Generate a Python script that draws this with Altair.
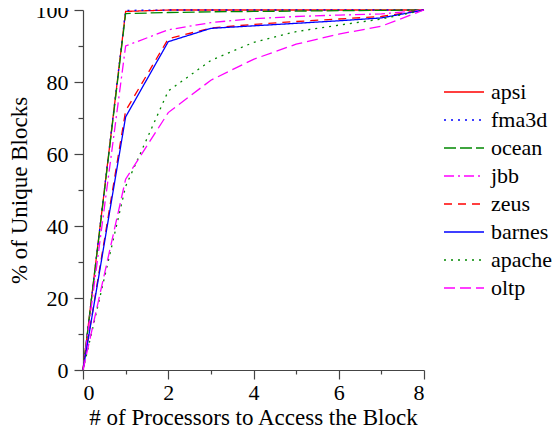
import altair as alt
import pandas as pd

procs = [0, 1, 2, 3, 4, 5, 6, 7, 8]
apsi = [0, 99.6, 100, 100, 100, 100, 100, 100, 100]
fma3d = [0, 99.9, 100, 100, 100, 100, 100, 100, 100]
ocean = [0, 99.0, 99.3, 99.5, 99.6, 99.7, 99.8, 99.9, 100]
jbb = [0, 90.0, 94.5, 96.5, 97.6, 98.2, 98.6, 98.9, 100]
zeus = [0, 72.0, 92.0, 95.0, 96.0, 96.8, 97.5, 98.2, 100]
barnes = [0, 70.3, 91.2, 94.9, 95.6, 96.3, 97.0, 97.8, 100]
apache = [0, 51.0, 77.5, 86.0, 91.0, 94.0, 95.8, 97.5, 100]
oltp = [0, 53.0, 71.5, 80.5, 86.3, 90.5, 93.3, 95.5, 100]

series_names = ["apsi", "fma3d", "ocean", "jbb", "zeus", "barnes", "apache", "oltp"]
series_values = [apsi, fma3d, ocean, jbb, zeus, barnes, apache, oltp]
series_colors = ["#ff0000", "#0000ff", "#008800", "#ff00ff",
                 "#ff0000", "#0000ff", "#008800", "#ff00ff"]
series_dash = [[1, 0], [2, 5], [12, 4], [10, 4, 2, 4], [8, 6], [1, 0], [2, 5], [11, 5]]

rows = []
for name, vals in zip(series_names, series_values):
    for p, v in zip(procs, vals):
        rows.append({"procs": p, "pct": v, "series": name})
df = pd.DataFrame(rows)

FONT = "Liberation Serif"
xscale = alt.Scale(domain=[0, 8], nice=False)
yscale = alt.Scale(domain=[0, 100], nice=False)

axis_style = dict(labelFont=FONT, labelFontSize=22, labelColor="black",
                  titleFont=FONT, titleFontSize=23, titleFontWeight="normal", titleColor="black",
                  domainColor="#444444", tickColor="#444444", domainWidth=1.2, tickWidth=1.2,
                  grid=False)

legend_style = dict(title=None, orient="none", legendX=360, legendY=68,
                    symbolType="stroke", symbolSize=1600, symbolStrokeWidth=1.3,
                    clipHeight=28, rowPadding=0, padding=0, labelOffset=6,
                    labelFont=FONT, labelFontSize=22, labelColor="black",
                    labelLimit=200)

base = alt.Chart(df)

lines = base.mark_line(strokeWidth=1.3).encode(
    x=alt.X("procs:Q", scale=xscale,
            axis=alt.Axis(values=[0, 2, 4, 6, 8], tickSize=9, labelPadding=3,
                          orient="bottom",
                          title="# of Processors to Access the Block",
                          titleX=170, titleY=47, titleAlign="center",
                          titleBaseline="middle", **axis_style)),
    y=alt.Y("pct:Q", scale=yscale,
            axis=alt.Axis(values=[0, 20, 40, 60, 80, 100], tickSize=9, labelPadding=6,
                          orient="left",
                          title="% of Unique Blocks",
                          titleX=-64, titleY=180, titleAngle=270, titleAlign="center",
                          titleBaseline="middle", **axis_style)),
    color=alt.Color("series:N", scale=alt.Scale(domain=series_names, range=series_colors),
                    legend=alt.Legend(**legend_style)),
    strokeDash=alt.StrokeDash("series:N", scale=alt.Scale(domain=series_names, range=series_dash),
                              legend=alt.Legend(**legend_style)),
)

minor = base.mark_line(opacity=0).encode(
    x=alt.X("procs:Q", scale=xscale,
            axis=alt.Axis(values=[1, 3, 5, 7], tickSize=4, labels=False, domain=False,
                          orient="bottom", title=None, **axis_style)),
    y=alt.Y("pct:Q", scale=yscale,
            axis=alt.Axis(values=[10, 30, 50, 70, 90], tickSize=5, labels=False, domain=False,
                          orient="left", title=None, **axis_style)),
    detail="series:N",
)

chart = alt.layer(lines, minor).resolve_axis(
    x="independent", y="independent"
).properties(
    width=341, height=360,
    padding={"left": 75, "top": 2, "right": 128, "bottom": 60},
    autosize=alt.AutoSizeParams(type="none"),
).configure(
    font=FONT
).configure_view(
    stroke=None
)

chart.save("out.html", embed_options={"renderer": "svg", "actions": False})
